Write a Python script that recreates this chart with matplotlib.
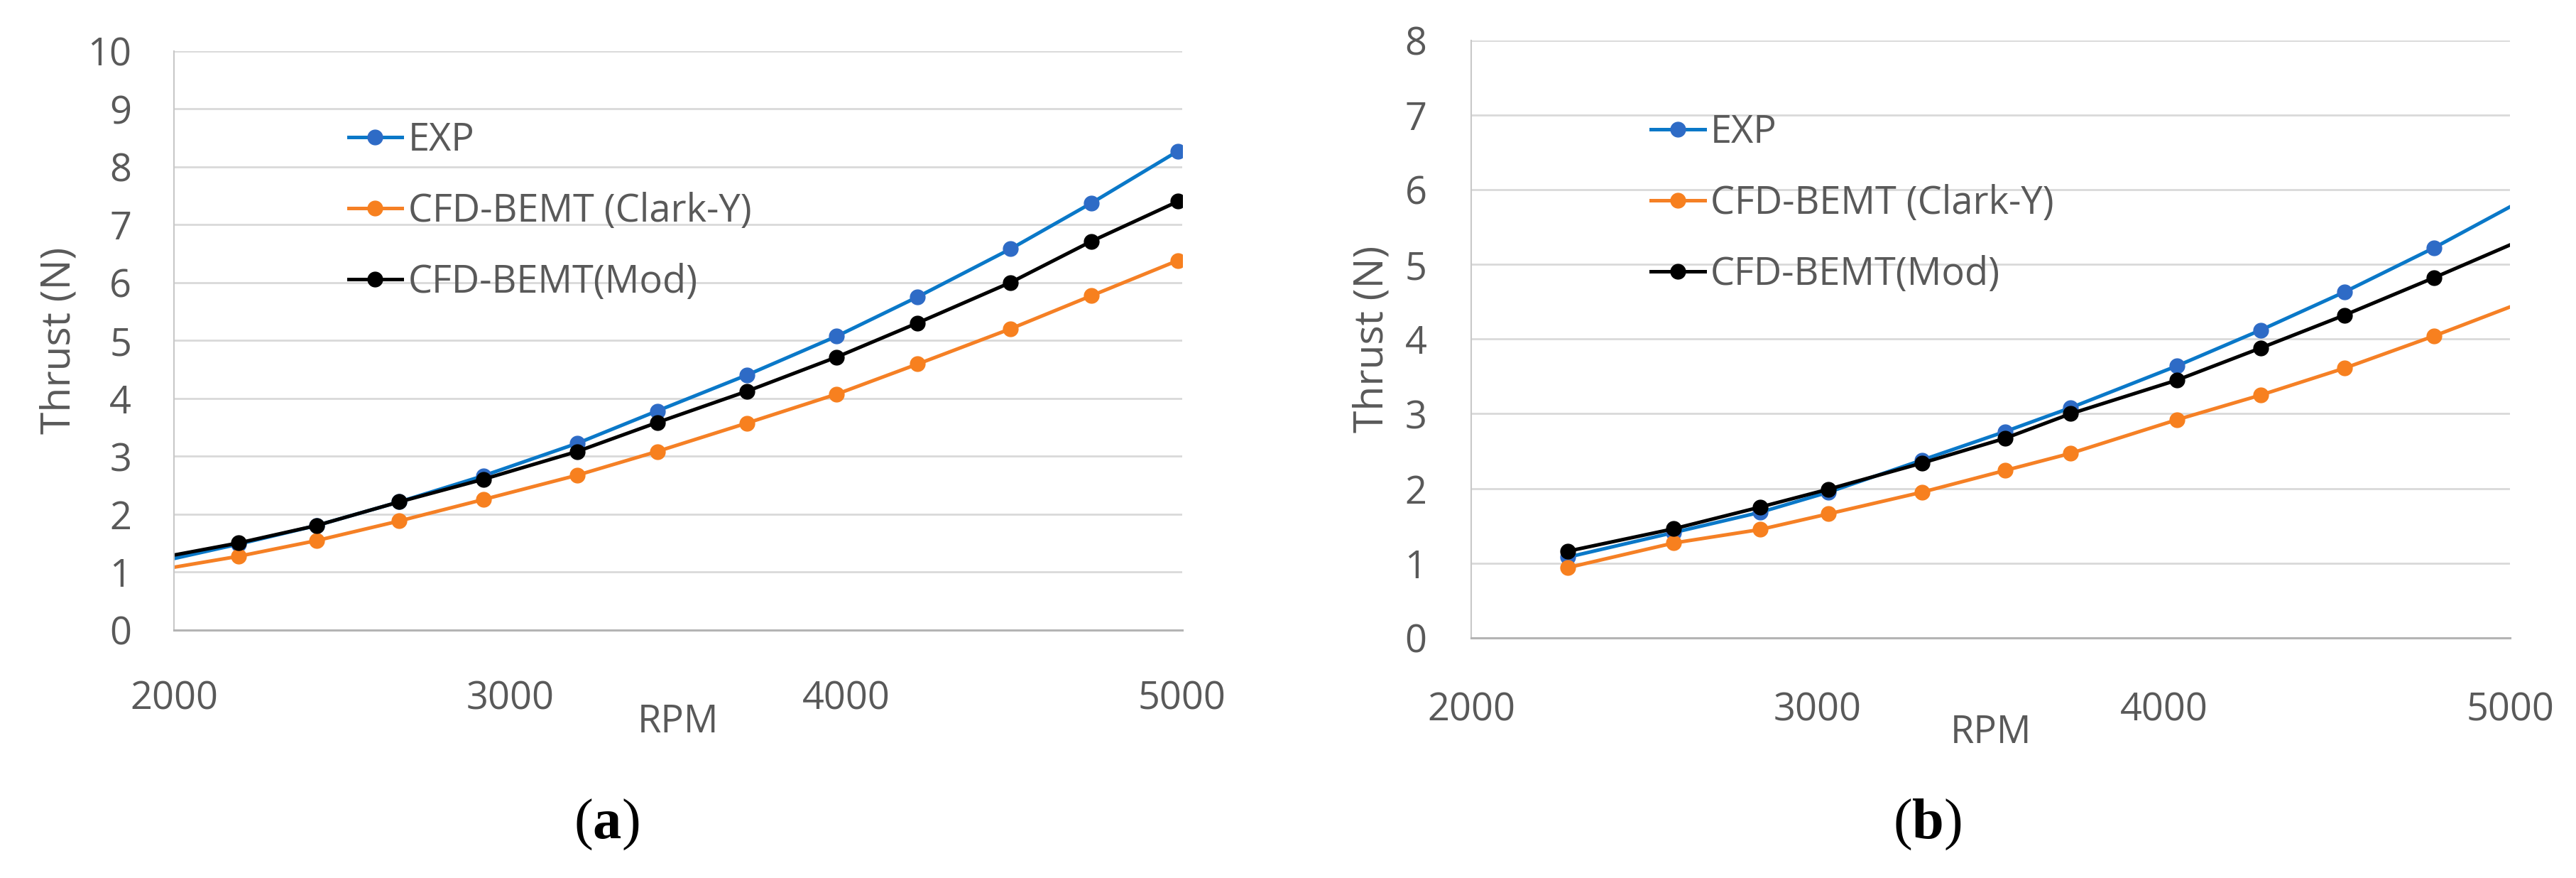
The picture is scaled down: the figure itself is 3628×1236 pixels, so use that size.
import matplotlib.pyplot as plt

plt.rcParams["font.family"] = ["Open Sans", "DejaVu Sans"]
plt.rcParams["mathtext.fontset"] = "custom"
plt.rcParams["mathtext.rm"] = "Liberation Serif"
plt.rcParams["mathtext.bf"] = "Liberation Serif:bold"

# panel (a): first point sits on the left axis edge (no marker drawn)
rpm_a = [2000, 2193, 2424, 2671, 2921, 3200, 3438, 3705, 3972, 4213, 4490, 4730, 4988]
exp_a = [1.23, 1.48, 1.80, 2.21, 2.66, 3.22, 3.78, 4.40, 5.07, 5.75, 6.58, 7.37, 8.27]
clark_a = [1.08, 1.27, 1.54, 1.88, 2.25, 2.67, 3.08, 3.57, 4.07, 4.59, 5.20, 5.77, 6.38]
mod_a = [1.29, 1.50, 1.80, 2.21, 2.60, 3.08, 3.58, 4.12, 4.71, 5.30, 6.00, 6.71, 7.40]

# panel (b): last point sits on the right axis edge (no marker drawn)
rpm_b = [2279, 2585, 2834, 3032, 3302, 3541, 3731, 4038, 4280, 4522, 4780, 5000]
exp_b = [1.08, 1.41, 1.68, 1.95, 2.38, 2.76, 3.08, 3.64, 4.12, 4.63, 5.22, 5.77]
clark_b = [0.94, 1.27, 1.45, 1.66, 1.95, 2.24, 2.47, 2.92, 3.25, 3.61, 4.04, 4.43]
mod_b = [1.16, 1.46, 1.75, 1.99, 2.34, 2.67, 3.00, 3.45, 3.88, 4.32, 4.82, 5.26]

labels = ["EXP", "CFD-BEMT (Clark-Y)", "CFD-BEMT(Mod)"]
line_colors = ["#0A78C8", "#F58025", "#000000"]
marker_colors = ["#2E6BC6", "#F7801F", "#000000"]
TXT = "#595959"

fig = plt.figure(figsize=(36.28, 12.36), dpi=100)
ax_a = fig.add_axes([0.0675, 0.2827, 0.3914, 0.6594])
ax_b = fig.add_axes([0.5711, 0.2735, 0.4033, 0.6807])

panels = [
    (ax_a, rpm_a, [exp_a, clark_a, mod_a], 10, slice(1, None), -0.113, 43, 50, "a", 0.2353, 0.879),
    (ax_b, rpm_b, [exp_b, clark_b, mod_b], 8, slice(0, -1), -0.095, 45, 54, "b", 0.7483, 0.878),
]

for ax, rpm, series, ymax, marks, ylab_x, ypad, xpad, tag, tag_x, leg_y in panels:
    for vals, lab, lc, mc in zip(series, labels, line_colors, marker_colors):
        ax.plot(rpm, vals, color=lc, lw=3.6, marker="o", markersize=15,
                markerfacecolor=mc, markeredgecolor=mc, markevery=marks, label=lab)
    ax.set_xlim(2000, 5000)
    ax.set_ylim(0, ymax)
    ax.set_xticks([2000, 3000, 4000, 5000])
    ax.set_yticks(range(0, ymax + 1))
    ax.yaxis.grid(True, color="#D9D9D9", lw=2)
    ax.set_axisbelow(True)
    for side in ["top", "right"]:
        ax.spines[side].set_visible(False)
    ax.spines["left"].set_color("#C8C8C8")
    ax.spines["left"].set_linewidth(1.5)
    ax.spines["bottom"].set_color("#B4B4B4")
    ax.spines["bottom"].set_linewidth(2.2)
    ax.tick_params(axis="both", length=0, labelsize=39, labelcolor=TXT)
    ax.tick_params(axis="y", pad=ypad)
    ax.tick_params(axis="x", pad=xpad)

    ax.set_ylabel("Thrust (N)", fontsize=41, color=TXT, va="center")
    ax.yaxis.set_label_coords(ylab_x, 0.5)
    ax.set_xlabel("RPM", fontsize=39, color=TXT, va="center")
    ax.xaxis.set_label_coords(0.5, -0.159)

    leg = ax.legend(loc="upper left", bbox_to_anchor=(0.173, leg_y), frameon=False,
                    fontsize=39, handlelength=1.4, handletextpad=0.15,
                    labelspacing=0.83, borderpad=0, borderaxespad=0)
    for t in leg.get_texts():
        t.set_color(TXT)

    fig.text(tag_x, 0.061, "(" + r"$\mathbf{" + tag + "}$" + ")", fontsize=58,
             family="Liberation Serif", ha="center", va="center", color="black")

fig.savefig("out.png", dpi=100)
